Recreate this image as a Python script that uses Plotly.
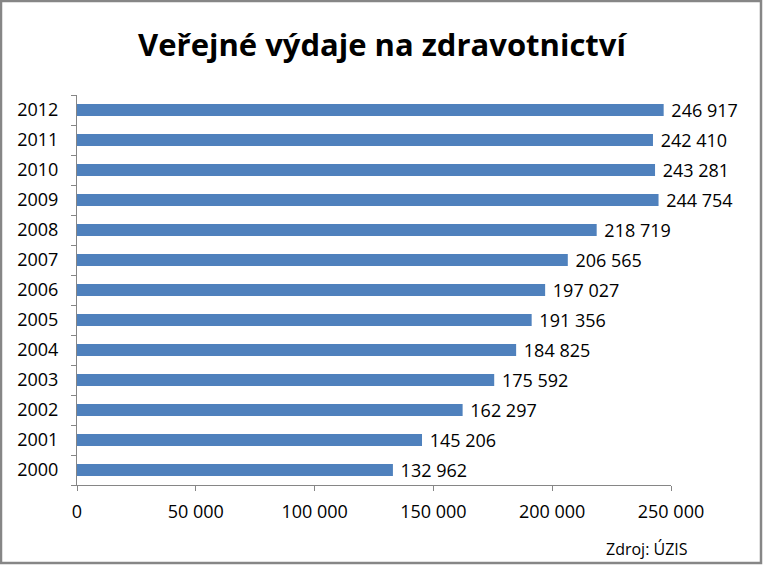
import plotly.graph_objects as go

years = ["2000", "2001", "2002", "2003", "2004", "2005", "2006",
         "2007", "2008", "2009", "2010", "2011", "2012"]
values = [132962, 145206, 162297, 175592, 184825, 191356, 197027,
          206565, 218719, 244754, 243281, 242410, 246917]
tick_vals = [0, 50000, 100000, 150000, 200000, 250000]
title_text = "Veřejné výdaje na zdravotnictví"
source_text = "Zdroj: ÚZIS"

W, H = 763, 565
L, R, T, B = 77, 92, 95, 80
FONT = "Open Sans"

def fmt(v):
    return f"{v:,}".replace(",", " ")

fig = go.Figure()
fig.add_trace(go.Bar(
    x=values, y=years, orientation="h",
    marker=dict(color="#4F81BD", line=dict(width=0)),
    width=0.4, hoverinfo="skip",
    text=["\u00a0" + fmt(v) for v in values],
    textposition="outside", cliponaxis=False, constraintext="none",
    textfont=dict(family=FONT, size=18, color="#000"),
))

pw = W - L - R
ph = H - T - B
fig.add_shape(type="rect", xref="paper", yref="paper",
              x0=-(L - 1) / pw, x1=1 + (R - 2) / pw,
              y0=-(B - 2) / ph, y1=1 + (T - 1) / ph,
              line=dict(color="#868686", width=2.5))

fig.update_layout(
    width=W, height=H,
    margin=dict(l=L, r=R, t=T, b=B),
    paper_bgcolor="white", plot_bgcolor="white",
    separators=", ",
    showlegend=False,
    title=dict(text=f"<b>{title_text}</b>", x=(382 - L) / pw, xref="paper", xanchor="center",
               y=1 - 45 / H, yanchor="middle",
               font=dict(family=FONT, size=31, color="#000")),
    font=dict(family=FONT, size=18, color="#000"),
    uniformtext=dict(mode=False),
    xaxis=dict(range=[0, 250000], tickvals=tick_vals,
               ticktext=[fmt(t) for t in tick_vals],
               showgrid=False, zeroline=False,
               showline=True, linecolor="#868686", linewidth=1,
               ticks="outside", ticklen=5, tickcolor="#868686",
               ticklabelstandoff=5,
               tickfont=dict(family=FONT, size=18)),
    yaxis=dict(type="category", categoryorder="array", categoryarray=years,
               range=[-0.5, len(years) - 0.5],
               showgrid=False, zeroline=False,
               showline=True, linecolor="#868686", linewidth=1,
               ticks="outside", ticklen=5, tickcolor="#868686",
               tickson="boundaries", ticklabelstandoff=14,
               tickfont=dict(family=FONT, size=18)),
)
fig.add_annotation(text=source_text, xref="paper", yref="paper",
                   x=(690 - L) / pw, y=-(549 - (T + ph)) / ph,
                   xanchor="right", yanchor="middle", showarrow=False,
                   font=dict(family=FONT, size=16, color="#000"))

fig.write_html("out.html")
